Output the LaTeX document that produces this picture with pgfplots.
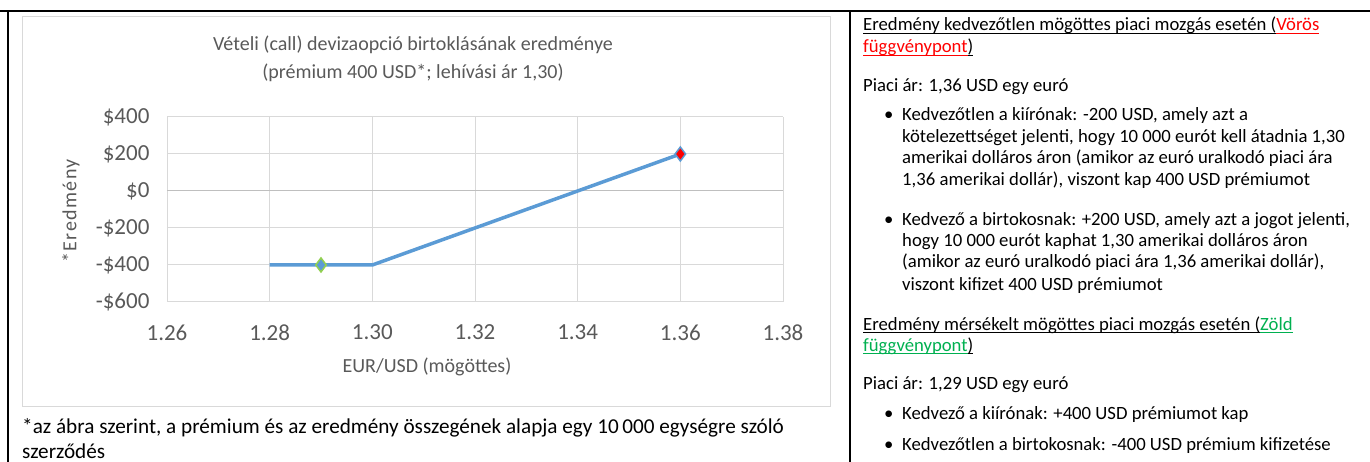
\documentclass[border=0pt]{standalone}
\usepackage{pgfplots}
\pgfplotsset{compat=1.18}
\usepackage{fontspec}
\setmainfont{Carlito}
\definecolor{txtgray}{HTML}{595959}
\definecolor{gridgray}{HTML}{D9D9D9}
\definecolor{zerogray}{HTML}{BFBFBF}
\definecolor{lineblue}{HTML}{5B9BD5}
\definecolor{ygreen}{HTML}{92D050}
\definecolor{wgreen}{HTML}{00B050}
\newcommand\ul[1]{\setbox0\hbox{#1}\rlap{\rule[-3pt]{\wd0}{1.1pt}}\box0}
\begin{document}
\begin{tikzpicture}[x=1pt,y=1pt]
\useasboundingbox (0,0) rectangle (1370,462);
% table lines
\draw[line width=2pt] (0,451) -- (1370,451);
\draw[line width=2pt] (8,451) -- (8,0);
\draw[line width=2pt] (850,451) -- (850,0);
% chart frame
\draw[gridgray, line width=1pt] (22,445) rectangle (830,55);
\begin{axis}[
  at={(167pt,160pt)}, anchor=south west,
  scale only axis, width=616pt, height=185pt,
  xmin=1.26, xmax=1.38, ymin=-600, ymax=400,
  xtick={1.26,1.28,1.30,1.32,1.34,1.36,1.38},
  xticklabels={1.26,1.28,1.30,1.32,1.34,1.36,1.38},
  ytick={-600,-400,-200,0,200,400},
  yticklabels={-\$600,-\$400,-\$200,\$0,\$200,\$400},
  extra y ticks={0}, extra y tick labels={},
  extra y tick style={grid=major, major grid style={zerogray, line width=1pt}},
  grid=major,
  major grid style={gridgray, line width=1pt},
  axis line style={draw=none},
  major tick length=0pt,
  xticklabel style={font=\fontsize{23}{27}\selectfont, text=txtgray, yshift=-19pt},
  yticklabel style={font=\fontsize{23}{27}\selectfont, text=txtgray, xshift=-14pt},
  clip=false,
]
\addplot[lineblue, line width=3.5pt, no marks] coordinates {(1.28,-400) (1.29,-400) (1.30,-400) (1.36,200)};
\addplot[only marks, mark=diamond*, mark size=7pt, mark options={fill=lineblue, draw=ygreen, line width=1.5pt}] coordinates {(1.29,-400)};
\addplot[only marks, mark=diamond*, mark size=7pt, mark options={fill=red, draw=lineblue, line width=1.5pt}] coordinates {(1.36,200)};
\end{axis}
% titles
\node[text=txtgray, font=\fontsize{20}{24}\selectfont, anchor=base] at (413,411) {Vételi (call) devizaopció birtoklásának eredménye};
\node[text=txtgray, font=\fontsize{20}{24}\selectfont, anchor=base] at (413,383) {(prémium 400 USD*; lehívási ár 1,30)};
\node[text=txtgray, font=\fontsize{20}{24}\selectfont\addfontfeature{LetterSpace=7}, rotate=90, anchor=center] at (71,251) {*Eredmény};
\node[text=txtgray, font=\fontsize{20}{24}\selectfont, anchor=base] at (427,89) {EUR/USD (mögöttes)};
% footnote
\node[font=\fontsize{21.2}{25}\selectfont, anchor=base west, inner sep=0pt] at (22,28) {*az ábra szerint, a prémium és az eredmény összegének alapja egy 10\,000 egységre szóló};
\node[font=\fontsize{21.2}{25}\selectfont, anchor=base west, inner sep=0pt] at (22,3) {szerződés};
% right column
\begin{scope}[every node/.style={font=\fontsize{18.7}{22}\selectfont, anchor=base west, inner sep=0pt}]
\node at (863,431) {\ul{Eredmény kedvezőtlen mögöttes piaci mozgás esetén (}{\color{red}\ul{Vörös}}};
\node at (863,409) {{\color{red}\ul{függvénypont}}\ul{)}};
\node at (863,370.5) {Piaci ár: 1,36 USD egy euró};
\node at (884,341) {•};
\node at (902,341) {Kedvezőtlen a kiírónak: -200 USD, amely azt a};
\node at (902,319) {kötelezettséget jelenti, hogy 10 000 eurót kell átadnia 1,30};
\node at (902,298) {amerikai dolláros áron (amikor az euró uralkodó piaci ára};
\node at (902,276) {1,36 amerikai dollár), viszont kap 400 USD prémiumot};
\node at (884,236.5) {•};
\node at (902,236.5) {Kedvező a birtokosnak: +200 USD, amely azt a jogot jelenti,};
\node at (902,215) {hogy 10 000 eurót kaphat 1,30 amerikai dolláros áron};
\node at (902,194) {(amikor az euró uralkodó piaci ára 1,36 amerikai dollár),};
\node at (902,171.5) {viszont kifizet 400 USD prémiumot};
\node at (863,131.5) {\ul{Eredmény mérsékelt mögöttes piaci mozgás esetén (}{\color{wgreen}\ul{Zöld}}};
\node at (863,110.5) {{\color{wgreen}\ul{függvénypont}}\ul{)}};
\node at (863,72) {Piaci ár: 1,29 USD egy euró};
\node at (884,42) {•};
\node at (902,42) {Kedvező a kiírónak: +400 USD prémiumot kap};
\node at (884,11) {•};
\node at (902,11) {Kedvezőtlen a birtokosnak: -400 USD prémium kifizetése};
\end{scope}
\end{tikzpicture}
\end{document}
